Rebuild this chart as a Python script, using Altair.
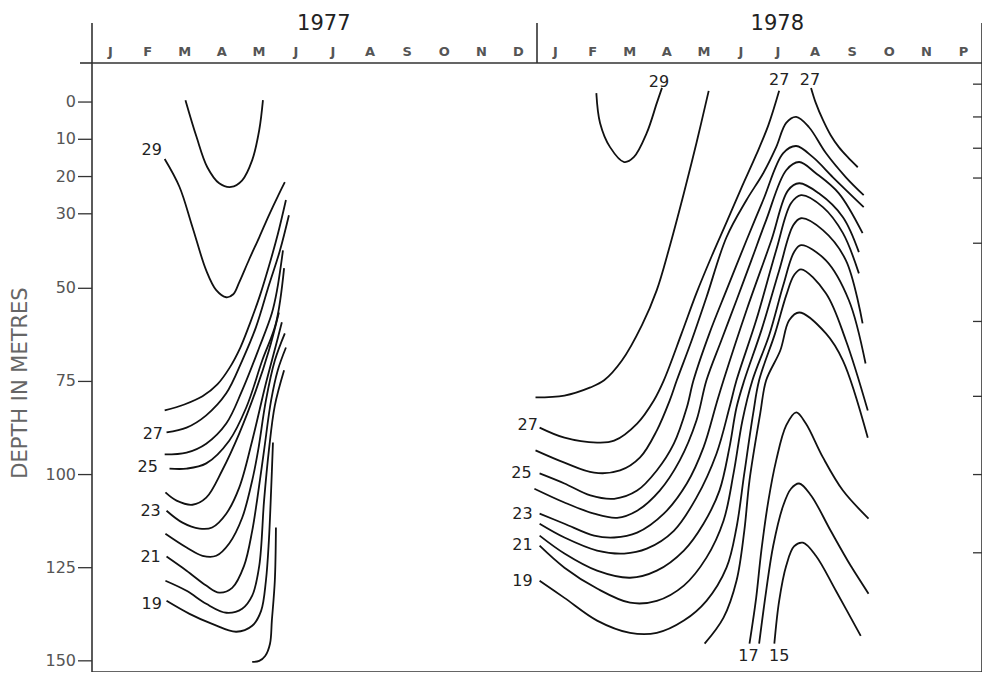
import altair as alt
import pandas as pd

# x = months counted from 1 January 1977, y = depth in metres
# ---------------- 1977 isotherms ----------------
t30_77_m = [2.52, 2.82, 3.11, 3.43, 3.75, 4.05, 4.32, 4.51, 4.61]
t30_77_d = [-0.5, 9.4, 17.5, 21.8, 22.8, 21.0, 15.6, 7.5, -0.5]
t29_77_m = [1.96, 2.36, 2.71, 3.08, 3.35, 3.62, 3.81, 3.97, 4.24, 4.51, 4.77, 5.04, 5.20]
t29_77_d = [15.3, 22.8, 33.6, 45.2, 50.5, 52.4, 51.6, 48.4, 42.2, 36.3, 30.4, 24.7, 21.5]
t28_77_m = [1.96, 2.49, 2.98, 3.38, 3.70, 4.00, 4.26, 4.53, 4.77, 5.01, 5.23]
t28_77_d = [82.8, 81.2, 79.0, 75.8, 71.5, 65.9, 59.4, 51.9, 44.1, 35.5, 26.3]
t27_77_m = [2.01, 2.55, 3.08, 3.62, 4.05, 4.42, 4.77, 5.07, 5.31]
t27_77_d = [88.7, 87.4, 84.1, 78.2, 69.4, 60.5, 49.2, 39.8, 30.4]
t26_77_m = [1.96, 2.55, 3.08, 3.62, 4.05, 4.51, 4.85, 4.99, 5.15]
t26_77_d = [94.6, 94.1, 91.7, 86.3, 77.4, 65.9, 56.7, 50.5, 39.8]
t25_77_m = [2.09, 2.55, 3.08, 3.70, 4.16, 4.59, 4.96, 5.18]
t25_77_d = [98.4, 98.4, 97.0, 90.9, 82.0, 69.4, 59.4, 44.6]
t24_77_m = [1.98, 2.28, 2.71, 3.08, 3.51, 3.97, 4.42, 4.77, 5.04]
t24_77_d = [104.8, 107.0, 108.1, 106.2, 98.9, 89.0, 77.4, 66.7, 56.5]
t23_77_m = [2.01, 2.44, 2.90, 3.24, 3.62, 3.97, 4.32, 4.69, 4.96, 5.12]
t23_77_d = [109.7, 112.9, 114.5, 114.2, 110.5, 103.5, 90.9, 75.5, 65.3, 59.1]
t22_77_m = [1.98, 2.55, 2.98, 3.35, 3.70, 4.05, 4.32, 4.48, 4.69, 4.93, 5.20]
t22_77_d = [115.9, 119.6, 121.8, 121.8, 118.5, 111.6, 101.6, 93.5, 80.1, 69.4, 62.1]
t21_77_m = [2.01, 2.55, 3.08, 3.43, 3.78, 4.10, 4.32, 4.45, 4.64, 4.83, 5.01, 5.23]
t21_77_d = [122.0, 125.8, 129.8, 131.7, 130.4, 124.5, 115.1, 107.0, 93.5, 80.1, 72.0, 65.9]
t20_77_m = [1.98, 2.55, 3.08, 3.62, 4.05, 4.32, 4.51, 4.64, 4.77, 4.93, 5.18]
t20_77_d = [128.5, 131.2, 134.7, 137.1, 136.0, 132.5, 124.5, 107.0, 93.5, 81.5, 72.0]
t19_77_m = [2.01, 2.63, 3.24, 3.89, 4.32, 4.56, 4.69, 4.77, 4.83, 4.88]
t19_77_d = [133.9, 137.4, 140.1, 142.2, 140.6, 136.6, 128.5, 117.7, 104.3, 91.4]
t18_77_m = [4.96, 4.93, 4.85, 4.80, 4.67, 4.51, 4.32]
t18_77_d = [114.2, 128.5, 139.2, 145.4, 148.7, 150.0, 150.3]

# ---------------- 1978 isotherms ----------------
t29_78_m = [13.60, 13.70, 13.97, 14.35, 14.61, 14.96, 15.23, 15.37]
t29_78_d = [-2.4, 5.6, 12.1, 16.1, 14.8, 8.3, 0.3, -3.8]
t28_78_m = [11.96, 12.74, 13.44, 13.81, 14.29, 14.83, 15.23, 15.55, 15.96, 16.30, 16.63]
t28_78_d = [79.3, 78.8, 76.6, 74.7, 69.4, 59.9, 50.5, 39.8, 24.5, 11.0, -3.0]
t27a_78_m = [12.07, 12.74, 13.62, 14.08, 14.70, 15.15, 15.42, 15.90, 16.30, 16.71, 17.11, 17.51, 17.91, 18.24, 18.53]
t27a_78_d = [87.4, 90.1, 91.4, 90.9, 86.3, 80.1, 74.7, 62.1, 51.3, 41.4, 32.3, 23.1, 14.2, 6.2, -3.0]
t27b_78_m = [19.39, 19.52, 19.71, 19.92, 20.14, 20.38, 20.65]
t27b_78_d = [-3.8, 0.3, 4.8, 8.9, 12.1, 14.8, 17.5]
t26_78_m = [11.96, 12.74, 13.54, 14.24, 14.78, 15.23, 15.58, 15.77, 16.17, 16.57, 17.11, 17.65, 18.10, 18.45, 18.72, 18.99, 19.33, 19.79, 20.33, 20.81]
t26_78_d = [93.5, 96.8, 99.5, 98.9, 95.4, 88.2, 80.1, 74.7, 64.0, 52.4, 36.3, 26.3, 19.1, 12.1, 5.6, 4.0, 6.7, 13.7, 20.2, 25.0]
t25_78_m = [12.07, 12.74, 13.44, 14.08, 14.70, 15.23, 15.69, 16.04, 16.22, 16.65, 17.11, 17.65, 18.10, 18.64, 18.99, 19.44, 19.98, 20.81]
t25_78_d = [99.7, 102.4, 105.6, 106.5, 104.3, 98.9, 91.7, 82.0, 74.7, 62.1, 50.5, 37.1, 26.3, 13.7, 11.8, 14.8, 20.2, 28.2]
t24_78_m = [11.93, 12.74, 13.54, 14.16, 14.70, 15.31, 15.85, 16.30, 16.57, 16.97, 17.38, 17.78, 18.18, 18.72, 19.07, 19.52, 20.14, 20.78]
t24_78_d = [103.8, 107.5, 110.5, 111.6, 109.7, 104.3, 96.2, 85.5, 74.7, 64.0, 53.2, 42.5, 31.7, 18.3, 16.1, 19.1, 24.5, 35.2]
t23_78_m = [12.07, 12.74, 13.54, 14.08, 14.70, 15.42, 16.04, 16.49, 16.84, 17.03, 17.65, 18.32, 18.77, 19.07, 19.60, 20.25, 20.68]
t23_78_d = [110.5, 113.2, 116.4, 116.9, 115.6, 110.5, 102.4, 92.7, 80.9, 74.7, 55.9, 37.1, 23.7, 21.8, 24.5, 30.9, 40.3]
t22_78_m = [12.07, 12.74, 13.62, 14.35, 14.96, 15.69, 16.30, 16.84, 17.19, 17.38, 17.91, 18.45, 18.85, 19.12, 19.71, 20.25, 20.68]
t22_78_d = [113.2, 116.9, 120.4, 121.2, 119.9, 115.1, 106.2, 94.4, 82.0, 74.7, 58.6, 39.8, 27.2, 25.0, 28.2, 35.2, 46.0]
t21_78_m = [12.07, 12.74, 13.62, 14.51, 15.23, 15.96, 16.49, 16.92, 17.19, 17.38, 17.59, 18.05, 18.53, 18.91, 19.12, 19.71, 20.33, 20.78]
t21_78_d = [116.4, 121.2, 125.8, 127.7, 125.8, 120.4, 113.2, 104.3, 92.7, 82.0, 74.7, 61.3, 45.2, 33.1, 31.2, 34.4, 42.5, 59.4]
t20_78_m = [12.07, 12.74, 13.62, 14.51, 15.23, 15.96, 16.57, 17.03, 17.30, 17.54, 17.81, 18.26, 18.64, 18.93, 19.12, 19.79, 20.41, 20.86]
t20_78_d = [119.1, 125.0, 130.6, 134.4, 133.9, 129.8, 122.3, 112.4, 99.7, 85.5, 74.7, 62.6, 49.2, 40.3, 38.4, 42.5, 53.2, 70.2]
t19_78_m = [12.07, 12.74, 13.62, 14.51, 15.23, 15.96, 16.57, 17.11, 17.38, 17.59, 17.83, 17.99, 18.42, 18.72, 18.93, 19.12, 19.79, 20.33, 20.92]
t19_78_d = [128.5, 133.1, 139.2, 142.5, 142.5, 139.2, 133.9, 125.0, 114.2, 99.7, 83.6, 74.7, 62.1, 51.9, 46.5, 44.9, 51.3, 64.0, 82.8]
t18_78_m = [16.52, 17.03, 17.38, 17.59, 17.73, 18.02, 18.18, 18.56, 18.80, 19.07, 19.79, 20.25, 20.92]
t18_78_d = [145.4, 138.4, 128.5, 115.1, 101.6, 83.6, 74.7, 66.7, 58.6, 56.5, 62.1, 69.4, 90.1]
t17_78_m = [17.73, 17.91, 18.05, 18.24, 18.45, 18.72, 18.99, 19.25, 19.71, 20.25, 20.94]
t17_78_d = [145.4, 133.1, 120.4, 107.0, 96.2, 86.8, 83.3, 86.3, 95.4, 104.3, 111.8]
t16_78_m = [17.99, 18.18, 18.37, 18.64, 18.85, 19.07, 19.39, 19.92, 20.46, 20.94]
t16_78_d = [145.4, 131.2, 119.1, 108.3, 103.8, 102.4, 105.6, 115.1, 124.5, 132.0]
t15_78_m = [18.40, 18.53, 18.72, 18.93, 19.17, 19.52, 20.06, 20.73]
t15_78_d = [145.4, 133.9, 124.5, 119.3, 118.3, 121.8, 131.2, 143.3]

# ---------------- isotherm labels ----------------
label_text = ["29", "27", "25", "23", "21", "19",
              "29", "27", "27", "27", "25", "23", "21", "19", "17", "15"]
label_m = [1.61, 1.64, 1.50, 1.58, 1.58, 1.61,
           15.29, 18.53, 19.36, 11.75, 11.58, 11.61, 11.61, 11.61, 17.70, 18.53]
label_d = [12.9, 89.2, 98.1, 109.7, 122.0, 134.7,
           -5.4, -5.9, -5.9, 86.8, 99.5, 110.5, 118.8, 128.5, 148.7, 148.7]

# ---------------- axes ----------------
month_letters = list("JFMAMJJASOND") + list("JFMAMJJASONP")
year_text = ["1977", "1978"]
year_m = [6.25, 18.48]
year_bounds = [0, 12, 24]
depth_ticks = [0, 10, 20, 30, 50, 75, 100, 125, 150]
right_ticks = [-4.8, 4.0, 12.4, 20.4, 37.9, 58.9, 79.0, 100.0, 121.0]
y_title = "DEPTH IN METRES"

curves = [
    ("t30_77", t30_77_m, t30_77_d), ("t29_77", t29_77_m, t29_77_d),
    ("t28_77", t28_77_m, t28_77_d), ("t27_77", t27_77_m, t27_77_d),
    ("t26_77", t26_77_m, t26_77_d), ("t25_77", t25_77_m, t25_77_d),
    ("t24_77", t24_77_m, t24_77_d), ("t23_77", t23_77_m, t23_77_d),
    ("t22_77", t22_77_m, t22_77_d), ("t21_77", t21_77_m, t21_77_d),
    ("t20_77", t20_77_m, t20_77_d), ("t19_77", t19_77_m, t19_77_d),
    ("t18_77", t18_77_m, t18_77_d),
    ("t29_78", t29_78_m, t29_78_d), ("t28_78", t28_78_m, t28_78_d),
    ("t27a_78", t27a_78_m, t27a_78_d), ("t27b_78", t27b_78_m, t27b_78_d),
    ("t26_78", t26_78_m, t26_78_d), ("t25_78", t25_78_m, t25_78_d),
    ("t24_78", t24_78_m, t24_78_d), ("t23_78", t23_78_m, t23_78_d),
    ("t22_78", t22_78_m, t22_78_d), ("t21_78", t21_78_m, t21_78_d),
    ("t20_78", t20_78_m, t20_78_d), ("t19_78", t19_78_m, t19_78_d),
    ("t18_78", t18_78_m, t18_78_d), ("t17_78", t17_78_m, t17_78_d),
    ("t16_78", t16_78_m, t16_78_d), ("t15_78", t15_78_m, t15_78_d),
]
rows = []
for name, ms, ds in curves:
    for i, (m, d) in enumerate(zip(ms, ds)):
        rows.append({"curve": name, "i": i, "month": m, "depth": d})
df = pd.DataFrame(rows)

labels_df = pd.DataFrame({"t": label_text, "month": label_m, "depth": label_d})
months_df = pd.DataFrame({"t": month_letters, "month": [k + 0.5 for k in range(24)]})
years_df = pd.DataFrame({"t": year_text, "month": year_m})
bounds_df = pd.DataFrame({"month": year_bounds})
rticks_df = pd.DataFrame({"depth": right_ticks})
yticks_df = pd.DataFrame({"depth": depth_ticks, "t": [str(v) for v in depth_ticks]})
ytitle_df = pd.DataFrame({"t": [y_title]})

W, H = 890, 609
FONT = "DejaVu Sans"
AX = "#333333"
xs = alt.Scale(domain=[0, 24], nice=False, zero=False)
ys = alt.Scale(domain=[-10.48, 153.0], reverse=True, nice=False, zero=False)

lines = alt.Chart(df).mark_line(
    color="#111111", strokeWidth=1.8, interpolate="catmull-rom"
).encode(
    x=alt.X("month:Q", scale=xs, axis=alt.Axis(
        orient="top", values=list(range(1, 24)), labels=False, tickSize=7,
        title=None, grid=False, domainColor=AX, tickColor=AX,
        domainWidth=1.6, tickWidth=1.5)),
    y=alt.Y("depth:Q", scale=ys, axis=None),
    detail="curve:N",
    order="i:Q",
)

# left depth axis: tick marks, labels and title
yticks = alt.Chart(yticks_df).mark_rule(color=AX, strokeWidth=1.3).encode(
    y=alt.Y("depth:Q", scale=ys, axis=None),
    x=alt.value(-14), x2=alt.value(0),
)
ylabels = alt.Chart(yticks_df).mark_text(
    font=FONT, fontSize=16, color="#555555", align="right", baseline="middle"
).encode(
    y=alt.Y("depth:Q", scale=ys, axis=None),
    x=alt.value(-16), text="t:N",
)
ytitle = alt.Chart(ytitle_df).mark_text(
    font=FONT, fontSize=21, color="#666666", angle=270,
    align="center", baseline="middle"
).encode(x=alt.value(-71), y=alt.value(320), text="t:N")

# short extension of the top axis line to the left of the frame
axis_stub = alt.Chart(ytitle_df).mark_rule(color=AX, strokeWidth=1.6).encode(
    x=alt.value(-12), x2=alt.value(0), y=alt.value(0)
)

bounds = alt.Chart(bounds_df).mark_rule(color=AX, strokeWidth=1.6).encode(
    x=alt.X("month:Q", scale=xs, axis=None),
    y=alt.value(-40), y2=alt.value(0),
)

rticks = alt.Chart(rticks_df).mark_rule(color=AX, strokeWidth=1.3).encode(
    y=alt.Y("depth:Q", scale=ys, axis=None),
    x=alt.value(W - 9), x2=alt.value(W),
)

month_text = alt.Chart(months_df).mark_text(
    font=FONT, fontSize=13, color="#555555", fontWeight="bold"
).encode(
    x=alt.X("month:Q", scale=xs, axis=None), y=alt.value(-11), text="t:N"
)

year_lbl = alt.Chart(years_df).mark_text(
    font=FONT, fontSize=21, color="#222222"
).encode(
    x=alt.X("month:Q", scale=xs, axis=None), y=alt.value(-39), text="t:N"
)

iso_lbl = alt.Chart(labels_df).mark_text(
    font=FONT, fontSize=16, color="#222222"
).encode(
    x=alt.X("month:Q", scale=xs, axis=None),
    y=alt.Y("depth:Q", scale=ys, axis=None),
    text="t:N",
)

chart = alt.layer(
    lines, yticks, ylabels, ytitle, axis_stub, bounds, rticks,
    month_text, year_lbl, iso_lbl
).properties(
    width=W, height=H,
    autosize=alt.AutoSizeParams(type="none"),
    padding={"left": 84, "top": 55, "right": 0, "bottom": 0},
).configure_view(stroke=AX, strokeWidth=1.6)

chart.save("out.html", embed_options={"renderer": "svg", "actions": False})
